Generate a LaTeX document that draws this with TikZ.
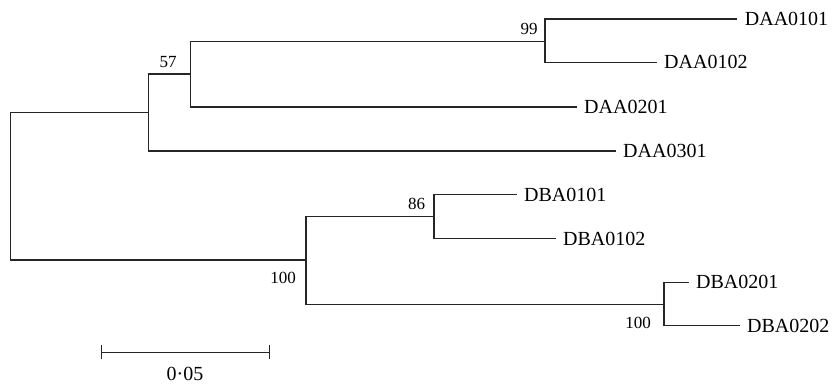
\documentclass[tikz,border=0pt]{standalone}
\usepackage{fontspec}
\setmainfont{Liberation Serif}
\begin{document}
\begin{tikzpicture}[x=1pt,y=-1pt,
  branch/.style={draw=black!85,line width=1.45pt,line cap=rect},
  leaf/.style={anchor=west,inner xsep=8pt,inner ysep=0pt,font=\fontsize{20}{24}\selectfont},
  boot/.style={inner sep=0pt,font=\fontsize{17}{20}\selectfont},
  scalelbl/.style={inner sep=0pt,font=\fontsize{20}{24}\selectfont}]
\useasboundingbox (0,0) rectangle (838,384);
% internal nodes
\coordinate (root) at (10.3,186);
\coordinate (nA) at (148.7,112.7);
\coordinate (nB) at (190.7,74);
\coordinate (nC) at (545,41.3);
\coordinate (nD) at (306,260);
\coordinate (nE) at (434,216.7);
\coordinate (nF) at (664,304.3);
% leaves
\node[leaf] (l1) at (736.7,19) {DAA0101};
\node[leaf] (l2) at (656,62.3) {DAA0102};
\node[leaf] (l3) at (576,107) {DAA0201};
\node[leaf] (l4) at (615,151) {DAA0301};
\node[leaf] (l5) at (516,194.7) {DBA0101};
\node[leaf] (l6) at (555,238.7) {DBA0102};
\node[leaf] (l7) at (688,282.3) {DBA0201};
\node[leaf] (l8) at (739,325.7) {DBA0202};
% branches
\draw[branch] (root) |- (nA);
\draw[branch] (root) |- (nD);
\draw[branch] (nA) |- (nB);
\draw[branch] (nA) |- (l4.west);
\draw[branch] (nB) |- (nC);
\draw[branch] (nB) |- (l3.west);
\draw[branch] (nC) |- (l1.west);
\draw[branch] (nC) |- (l2.west);
\draw[branch] (nD) |- (nE);
\draw[branch] (nD) |- (nF);
\draw[branch] (nE) |- (l5.west);
\draw[branch] (nE) |- (l6.west);
\draw[branch] (nF) |- (l7.west);
\draw[branch] (nF) |- (l8.west);
% bootstrap values
\node[boot] (b57) at (168,62) {57};
\node[boot] (b99) at (529,29) {99};
\node[boot] (b86) at (416.7,204) {86};
\node[boot] (b100a) at (283,277.7) {100};
\node[boot] (b100b) at (638,322.7) {100};
% scale bar
\coordinate (s1) at (101.7,352.3);
\coordinate (s2) at (269.3,352.3);
\draw[branch,line cap=butt] (s1) -- (s2);
\draw[branch,line cap=butt] ([yshift=-7pt]s1) -- ([yshift=7pt]s1);
\draw[branch,line cap=butt] ([yshift=-7pt]s2) -- ([yshift=7pt]s2);
\node[scalelbl] (slbl) at (185,374) {0·05};
\end{tikzpicture}
\end{document}
